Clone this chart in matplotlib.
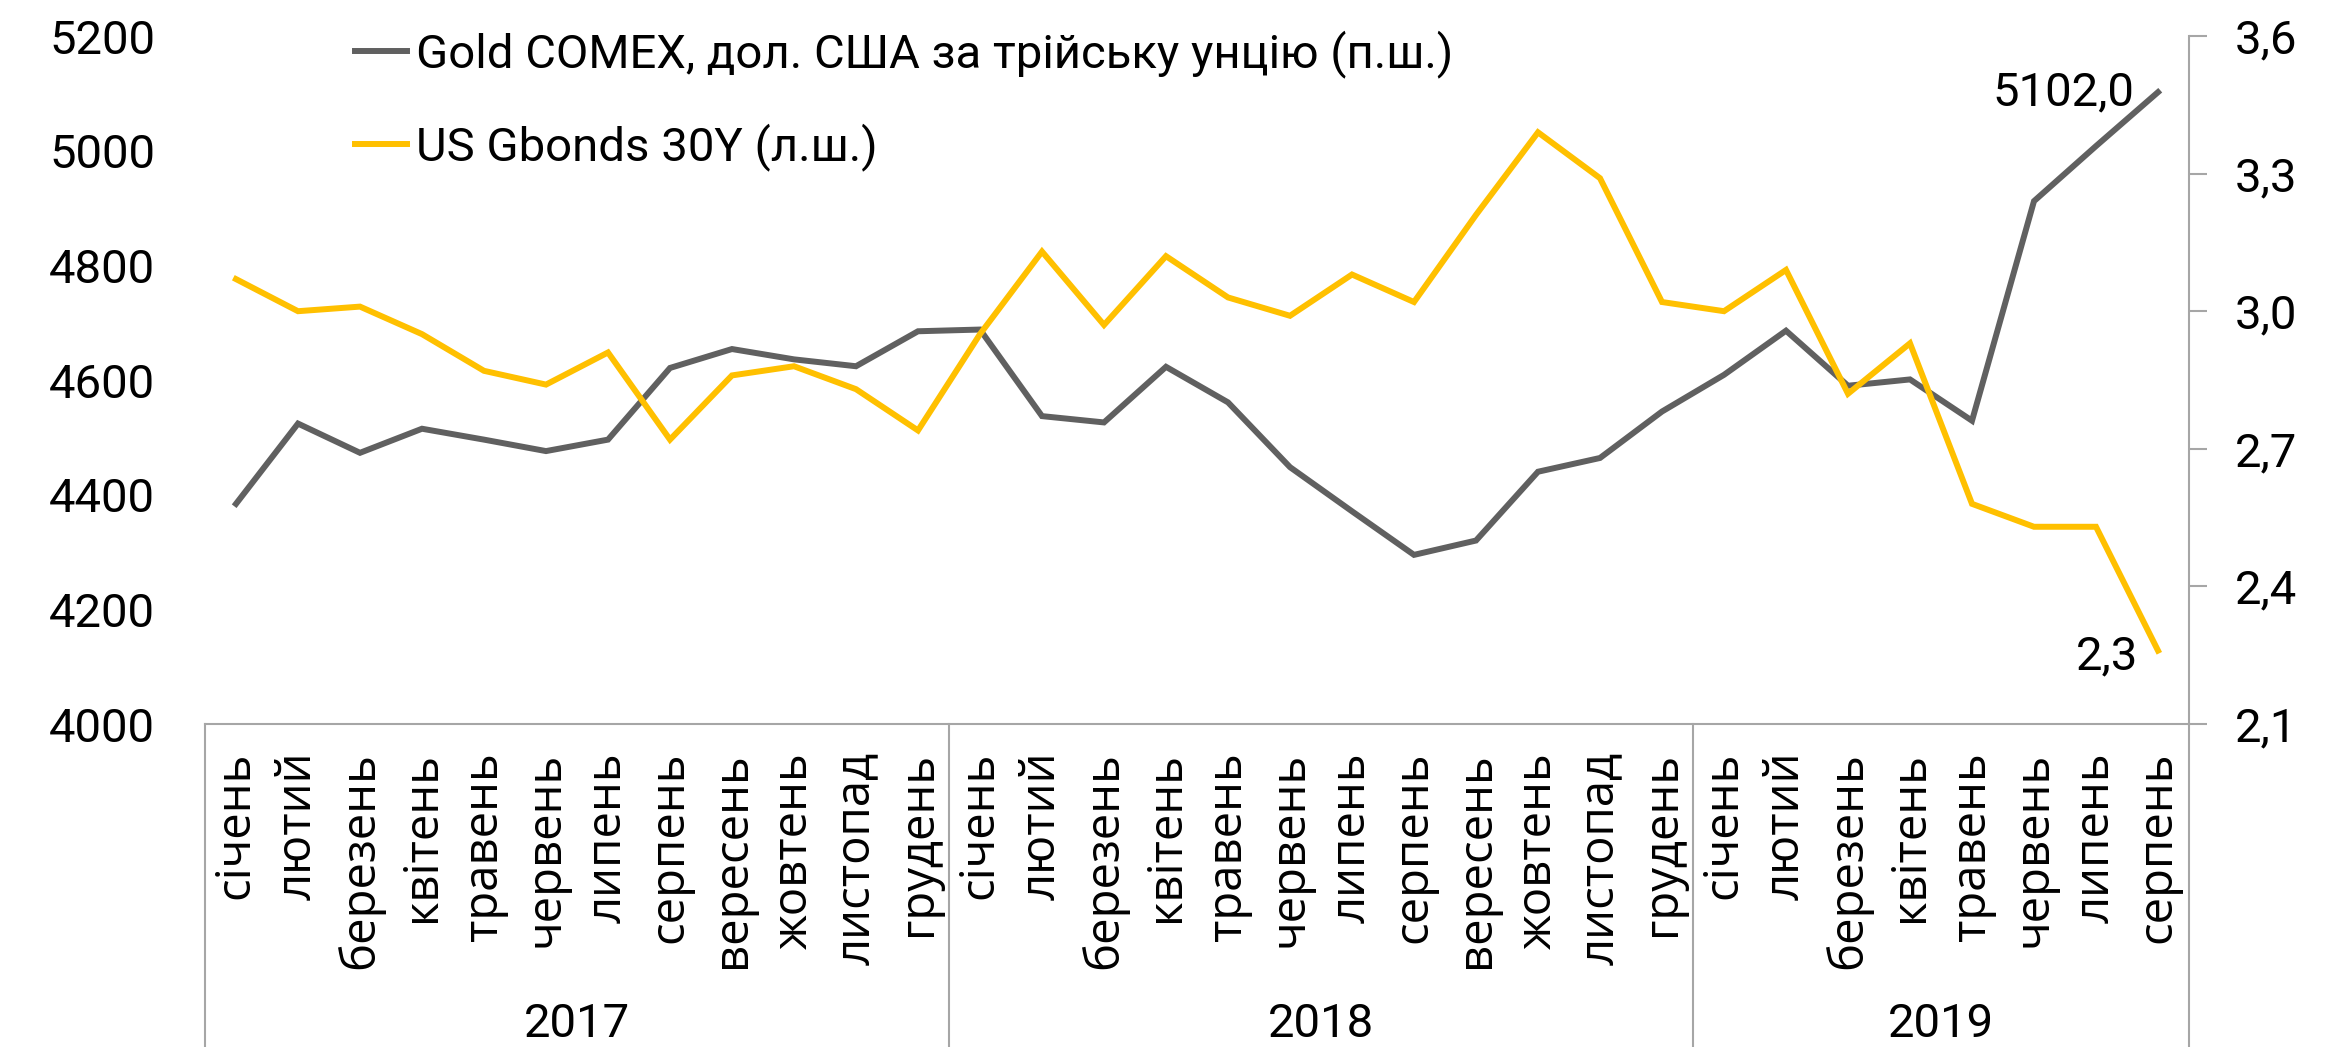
import matplotlib
matplotlib.use("Agg")
import matplotlib.pyplot as plt
from matplotlib.lines import Line2D
from matplotlib.ticker import FuncFormatter
import matplotlib.transforms as mtransforms

# ---------------- data ----------------
months = ["січень", "лютий", "березень", "квітень", "травень", "червень",
          "липень", "серпень", "вересень", "жовтень", "листопад", "грудень"]
years = ["2017", "2018", "2019"]
months_per_year = [12, 12, 8]
categories = months * 2 + months[:8]

gold = [4384, 4524, 4473, 4515, 4496, 4476, 4496, 4621, 4654, 4636, 4624, 4685,
        4688, 4537, 4526, 4623, 4561, 4448, 4371, 4295, 4320, 4440, 4464, 4545,
        4609, 4686, 4590, 4601, 4529, 4912, 5008, 5102]
bonds = [3.07, 3.00, 3.01, 2.95, 2.87, 2.84, 2.91, 2.72, 2.86, 2.88, 2.83, 2.74,
         2.95, 3.13, 2.97, 3.12, 3.03, 2.99, 3.08, 3.02, 3.21, 3.39, 3.29, 3.02,
         3.00, 3.09, 2.82, 2.93, 2.58, 2.53, 2.53, 2.26]

left_ticks = [4000, 4200, 4400, 4600, 4800, 5000, 5200]
right_ticks = [2.1, 2.4, 2.7, 3.0, 3.3, 3.6]

gold_label = "Gold COMEX, дол. США за трійську унцію (п.ш.)"
bonds_label = "US Gbonds 30Y (л.ш.)"

# ---------------- style ----------------
NARROW = ["Roboto", "DejaVu Sans"]
MONTHF = ["Open Sans", "DejaVu Sans"]
GRAY = "#606060"
YELLOW = "#FFC000"
AXCOL = "#A6A6A6"
NUM_FS = 34
LW = 4.3

W, H = 2346, 1047
fig = plt.figure(figsize=(W / 100, H / 100), dpi=100)
L, R, B, T = 205, 2189, 724, 36
ax = fig.add_axes([L / W, 1 - B / H, (R - L) / W, (B - T) / H])
ax2 = ax.twinx()

x = list(range(len(categories)))
ax.plot(x, gold, color=GRAY, lw=LW, solid_joinstyle="miter", zorder=3)
ax2.plot(x, bonds, color=YELLOW, lw=LW, solid_joinstyle="miter", zorder=3)

ax.set_xlim(-0.5, len(categories) - 0.5)
ax.set_ylim(4000, 5200)
ax2.set_ylim(2.1, 3.6)

# left axis
ax.set_yticks(left_ticks)
ax.set_yticklabels([str(v) for v in left_ticks], family=NARROW, fontsize=NUM_FS)
ax.tick_params(axis="y", length=0, pad=36)

# right axis
ax2.set_yticks(right_ticks)
ax2.yaxis.set_major_formatter(FuncFormatter(lambda v, p: f"{v:.1f}".replace(".", ",")))
for lab in ax2.get_yticklabels():
    lab.set_family(NARROW)
    lab.set_fontsize(NUM_FS)
ax2.tick_params(axis="y", length=13, width=1.5, color=AXCOL, pad=20)

# x axis
ax.set_xticks(x)
ax.set_xticklabels(categories, rotation=90, family=MONTHF, fontsize=34,
                   ha="center", va="top")
ax.tick_params(axis="x", length=0, pad=20)

for s in ["top", "left", "right"]:
    ax.spines[s].set_visible(False)
for s in ["top", "left", "bottom"]:
    ax2.spines[s].set_visible(False)
ax.spines["bottom"].set_color(AXCOL)
ax.spines["bottom"].set_linewidth(1.5)
ax2.spines["right"].set_color(AXCOL)
ax2.spines["right"].set_linewidth(1.5)

# category group separators below the axis
trans = mtransforms.blended_transform_factory(ax.transData, fig.transFigure)
bottom_fig = 1 - B / H
bounds = [-0.5]
for n in months_per_year:
    bounds.append(bounds[-1] + n)
for b in bounds:
    fig.add_artist(Line2D([b, b], [0, bottom_fig], transform=trans,
                          color=AXCOL, lw=1.5))
start = -0.5
for yr, n in zip(years, months_per_year):
    fig.text(start + n / 2, 0.022, yr, transform=trans,
             family=NARROW, fontsize=NUM_FS, ha="center", va="center")
    start += n

# end annotations
ax.annotate(f"{gold[-1]:.1f}".replace(".", ","), xy=(x[-1], gold[-1]),
            xytext=(-17, 0), textcoords="offset points",
            ha="right", va="center", family=NARROW, fontsize=NUM_FS)
ax2.annotate(f"{bonds[-1]:.1f}".replace(".", ","), xy=(x[-1], bonds[-1]),
             xytext=(-14, -4), textcoords="offset points",
             ha="right", va="center", family=NARROW, fontsize=NUM_FS)

# legend
handles = [Line2D([], [], color=GRAY, lw=LW), Line2D([], [], color=YELLOW, lw=LW)]
leg = fig.legend(handles, [gold_label, bonds_label], loc="upper left",
                 bbox_to_anchor=(355 / W, 1 - 30 / H), frameon=False,
                 prop={"family": NARROW, "size": NUM_FS},
                 handlelength=1.1, handletextpad=0.2, labelspacing=0.95,
                 borderaxespad=0, borderpad=0)

fig.savefig("out.png", dpi=100)
